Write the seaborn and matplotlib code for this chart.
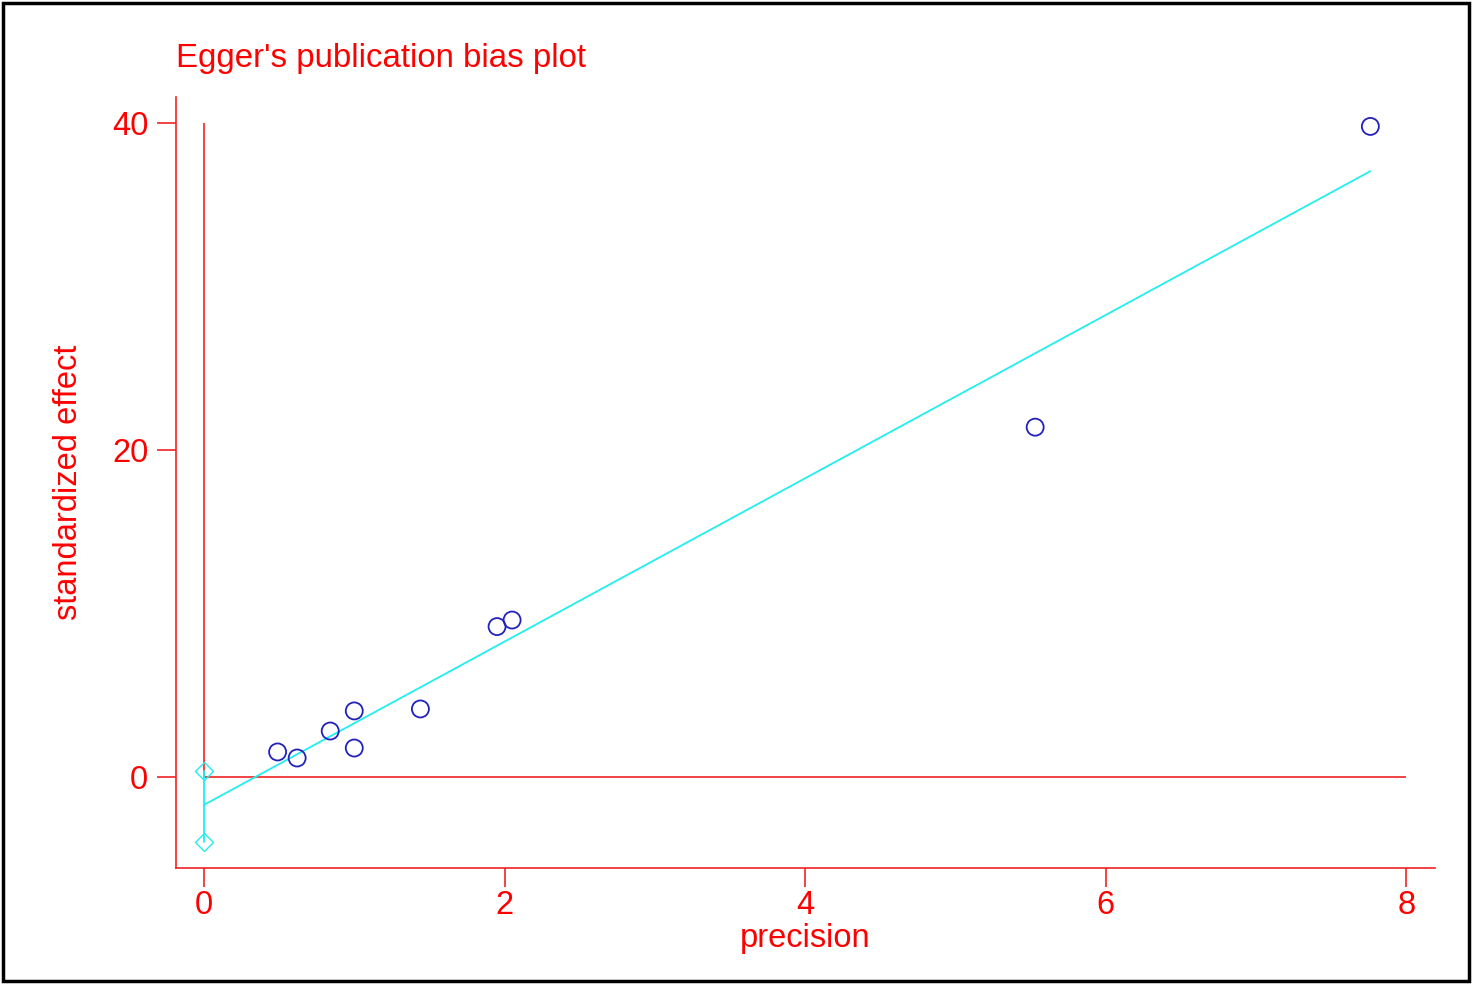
import matplotlib
matplotlib.use('Agg')
import matplotlib.pyplot as plt
import seaborn as sns
import pandas as pd
from matplotlib.patches import Rectangle

# Study values
precision = [7.76, 5.53, 2.05, 1.95, 1.44, 1.00, 1.00, 0.84, 0.49, 0.62]
std_effect = [39.8, 21.4, 9.6, 9.2, 4.16, 4.04, 1.77, 2.81, 1.53, 1.16]

# Egger regression line (endpoints) and intercept CI
fit_x = [0.0, 7.76]
fit_y = [-1.71, 37.06]
ci_x = [0.0, 0.0]
ci_y = [0.37, -3.98]

x_ticks = [0, 2, 4, 6, 8]
y_ticks = [0, 20, 40]

RED_TXT = '#ff0000'
RED = '#f02424'
CYAN = '#22eeee'
BLUE = '#2222bb'

sns.set_style("white")
plt.rcParams['font.family'] = ['Liberation Sans', 'DejaVu Sans']

fig = plt.figure(figsize=(14.72, 9.84), dpi=100)
ax = fig.add_axes([176 / 1472, 1 - 868 / 984, (1435 - 176) / 1472, (868 - 97) / 984])

df = pd.DataFrame({'precision': precision, 'effect': std_effect})
df_fit = pd.DataFrame({'x': fit_x, 'y': fit_y})
df_ci = pd.DataFrame({'x': ci_x, 'y': ci_y})

# reference lines
ax.hlines(0, 0, 8, color=RED, linewidth=1.2, zorder=1)
ax.vlines(0, 0, 40, color=RED, linewidth=1.2, zorder=1)

sns.lineplot(data=df_fit, x='x', y='y', color=CYAN, linewidth=1.3, ax=ax, zorder=2)
ax.plot(df_ci['x'], df_ci['y'], color=CYAN, linewidth=1.3, marker='D',
        markersize=9, markerfacecolor='none', markeredgecolor=CYAN, zorder=2)
sns.scatterplot(data=df, x='precision', y='effect', marker='o', s=150,
                facecolor='none', edgecolor=BLUE, linewidth=1.3, ax=ax, zorder=3)

ax.set_xlim(-0.186, 8.19)
ax.set_ylim(-5.57, 41.6)
ax.set_xticks(x_ticks)
ax.set_yticks(y_ticks)

for side in ['top', 'right']:
    ax.spines[side].set_visible(False)
for side in ['left', 'bottom']:
    ax.spines[side].set_color(RED)
    ax.spines[side].set_linewidth(1.2)

ax.tick_params(axis='both', direction='out', length=14, width=1.2, color=RED,
               labelcolor=RED_TXT, labelsize=23.5, left=True, bottom=True)
ax.tick_params(axis='y', pad=6)
ax.tick_params(axis='x', pad=2)
ax.set_xlabel('precision', color=RED_TXT, fontsize=23.5, labelpad=1)
ax.set_ylabel('standardized effect', color=RED_TXT, fontsize=23.5, labelpad=20)

fig.text(176 / 1472, 1 - 59 / 984, "Egger's publication bias plot", color=RED_TXT,
         fontsize=23.8, va='center', ha='left')

# outer black frame
fig.patches.append(Rectangle((0.002, 0.003), 0.996, 0.994, transform=fig.transFigure,
                             fill=False, edgecolor='black', linewidth=2.5))

plt.savefig('out.png', dpi=100)
plt.close()
